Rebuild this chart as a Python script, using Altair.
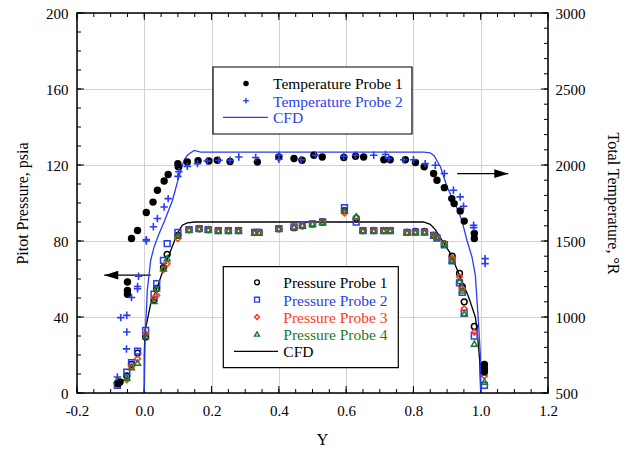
import altair as alt
import pandas as pd

FONT = "Liberation Serif"
BLUE = "#2a3df0"
RED = "#ff3a1c"
GREEN = "#1b7a2b"
GRID = "#d2d2d2"
W, H = 471, 380

# ---------------- data ----------------
# Pressure probes (psia) at common Y positions
X_P = [-0.08, -0.052, -0.038, -0.02, 0.004, 0.029, 0.037, 0.057, 0.068, 0.10,
       0.133, 0.163, 0.19, 0.22, 0.25, 0.28, 0.328, 0.341, 0.40, 0.445,
       0.47, 0.50, 0.53, 0.595, 0.63, 0.65, 0.682, 0.712, 0.731, 0.781,
       0.806, 0.833, 0.86, 0.87, 0.892, 0.915, 0.937, 0.945, 0.951, 0.981, 1.011]
P1 = [5, 9, 15, 21, 29.5, 49, 55, 66, 73, 83, 86, 86.5, 86, 85.5, 85.5, 85.5, 84.5, 84.5, 86.5, 87,
      88, 89, 90, 96, 92, 85.5, 85.5, 85.5, 85.5, 84.5, 85, 85, 83, 82, 78.5, 72, 63, 56, 48, 35, 12]
P2 = [4, 11, 16, 22, 33, 52, 57.6, 69.8, 78.6, 84.5, 86, 86.5, 86, 85.5, 85.5, 85.5, 84.5, 84.5, 86.5, 87.4,
      88.3, 89, 90, 97.5, 90, 85.5, 85.5, 85.5, 85.5, 84.5, 84.7, 84.7, 83, 81.5, 78, 69.5, 58, 53, 42, 30, 4]
P3 = [5, 7, 14, 18, 31, 50, 51.4, 65, 68, 81.3, 86, 86.5, 86, 85.5, 85.5, 85.5, 84.5, 84.5, 86.5, 87.4,
      88.3, 89.1, 90, 94.7, 92.5, 85.5, 85.5, 85.5, 85.5, 84.5, 84.7, 84.7, 83, 82, 78.6, 71, 61, 55, 44.4, 32, 9]
P4 = [7, 8, 13.6, 16, 30, 48.5, 55, 65.5, 71, 83, 86, 86.5, 86, 85.5, 85.5, 85.5, 84.5, 84.5, 86.5, 87.4,
      88.3, 89.1, 90, 96, 93, 85.5, 85.5, 85.5, 85.5, 84.5, 84.7, 84.7, 83, 82, 78.6, 70, 59, 54, 41.8, 26, 6]

# Pressure CFD (psia)
X_CP = [0.0, 0.0, 0.002, 0.007, 0.019, 0.039, 0.059, 0.079, 0.098, 0.113, 0.128, 0.15,
        0.83, 0.85, 0.865, 0.879, 0.91, 0.939, 0.964, 0.984, 0.989, 0.997, 1.0]
P_CP = [0, 20, 33, 36.5, 47, 55.8, 66.3, 75.1, 83.9, 88.3, 89.5, 90,
        90, 88.8, 86, 82.1, 73.4, 61, 50.5, 40, 33, 17, 0]

# Temperature probe 1 (deg R)
X_T1 = [-0.078, -0.072, -0.05, -0.05, -0.05, -0.038, -0.02, 0.006, 0.026, 0.039,
        0.059, 0.071, 0.10, 0.101, 0.128, 0.16, 0.192, 0.217, 0.255, 0.336, 0.40,
        0.445, 0.469, 0.504, 0.529, 0.593, 0.628, 0.652, 0.712, 0.731, 0.776,
        0.806, 0.832, 0.86, 0.87, 0.892, 0.914, 0.921, 0.939, 0.951, 0.981,
        0.981, 1.011, 1.011, 1.011]
T1 = [561, 572, 1150, 1175, 1230, 1516, 1569, 1688, 1756, 1834,
      1895, 1938, 2009, 1988, 2020, 2028, 2026, 2031, 2023, 2020, 2053,
      2043, 2031, 2064, 2053, 2049, 2058, 2053, 2035, 2035, 2035,
      2016, 1988, 1944, 1900, 1851, 1779, 1746, 1698, 1631, 1549,
      1516, 688, 663, 638]

# Temperature probe 2 (deg R)
X_T2 = [-0.08, -0.07, -0.053, -0.052, -0.052, -0.038, -0.02, -0.02, -0.017, 0.006,
        0.006, 0.027, 0.039, 0.059, 0.071, 0.10, 0.103, 0.128, 0.158, 0.187,
        0.222, 0.255, 0.281, 0.331, 0.40, 0.40, 0.466, 0.509, 0.593, 0.628,
        0.682, 0.717, 0.727, 0.771, 0.80, 0.835, 0.865, 0.892, 0.919, 0.939,
        0.949, 0.979, 0.979, 1.013, 1.013]
T2 = [605, 996, 790, 901, 1011, 1128, 1186, 1201, 1268, 1500,
      1509, 1594, 1648, 1724, 1779, 1925, 1956, 1991, 2009, 2026,
      2031, 2031, 2053, 2049, 2064, 2038, 2035, 2064, 2058, 2064,
      2064, 2069, 2043, 2035, 2035, 2009, 1998, 1944, 1834, 1790,
      1729, 1604, 1588, 1384, 1351]

# Temperature CFD (deg R)
X_CT = [0.0, 0.001, 0.002, 0.004, 0.009, 0.019, 0.029, 0.042, 0.06, 0.084, 0.10,
        0.118, 0.128, 0.148, 0.168, 0.83, 0.85, 0.862, 0.872, 0.88, 0.90, 0.924,
        0.944, 0.959, 0.974, 0.984, 0.993, 0.999, 1.0]
T_CT = [510, 650, 825, 934, 1175, 1373, 1460, 1538, 1631, 1768, 1900,
        2031, 2064, 2096, 2085, 2085, 2080, 2060, 2020, 1990, 1855, 1746,
        1636, 1505, 1395, 1275, 975, 750, 510]

# Arrows (pointing to the axis each group belongs to)
ARROW_L = {"x0": [-0.119], "x1": [0.019], "p": [62]}
ARROW_R = {"x0": [0.93], "x1": [1.082], "t": [1943]}

# Axis ticks
X_MAJOR = [-0.2, 0.0, 0.2, 0.4, 0.6, 0.8, 1.0, 1.2]
X_MINOR = [round(-0.2 + 0.05 * i, 2) for i in range(29)]
P_MAJOR = [0, 40, 80, 120, 160, 200]
P_MINOR = list(range(0, 201, 10))
T_MAJOR = [500, 1000, 1500, 2000, 2500, 3000]
T_MINOR = list(range(500, 3001, 100))

LEG1 = ["Temperature Probe 1", "Temperature Probe 2", "CFD"]
LEG2 = ["Pressure Probe 1", "Pressure Probe 2", "Pressure Probe 3", "Pressure Probe 4", "CFD"]

PLUS = "M-1,0L1,0M0,-1L0,1"
HEAD_L = "M0,0L2,-0.62L2,0.62Z"
HEAD_R = "M0,0L-2,-0.62L-2,0.62Z"

# ---------------- scales & axes ----------------
XS = alt.Scale(domain=[-0.2, 1.2], nice=False, zero=False)
PS = alt.Scale(domain=[0, 200], nice=False, zero=False)
TS = alt.Scale(domain=[500, 3000], nice=False, zero=False)

x_axis = alt.Axis(values=X_MAJOR, grid=True, gridColor=GRID, gridWidth=1, ticks=False, domain=False,
                  labelExpr="(datum.value < -0.001 ? '-' : '') + format(abs(datum.value), '.1f')",
                  labelFont=FONT, labelFontSize=15, labelColor="black", labelPadding=10,
                  labelFlush=False, labelOverlap=False,
                  title="Y", titleFont=FONT, titleFontSize=16, titleFontWeight="normal",
                  titleColor="black", titleX=245, titleY=38, titleBaseline="top", titleAlign="center")
p_axis = alt.Axis(values=P_MAJOR, grid=True, gridColor=GRID, gridWidth=1, ticks=False, domain=False,
                  format="d", labelFont=FONT, labelFontSize=15, labelColor="black", labelPadding=9,
                  labelFlush=False, labelOverlap=False,
                  title="Pitot Pressure, psia", titleFont=FONT, titleFontSize=16, titleFontWeight="normal",
                  titleColor="black", titleAngle=270, titleX=-55, titleY=190,
                  titleAlign="center", titleBaseline="middle")
t_axis = alt.Axis(orient="right", values=T_MAJOR, grid=False, ticks=False, domain=False,
                  format="d", labelFont=FONT, labelFontSize=15, labelColor="black", labelPadding=7,
                  labelFlush=False, labelOverlap=False,
                  title="Total Temperature, °R", titleFont=FONT, titleFontSize=16, titleFontWeight="normal",
                  titleColor="black", titleAngle=90, titleX=64, titleY=190,
                  titleAlign="center", titleBaseline="middle")

one = pd.DataFrame({"k": [0]})


def xq(field="x"):
    return alt.X(f"{field}:Q", scale=XS, axis=x_axis)


def yp(field):
    return alt.Y(f"{field}:Q", scale=PS, axis=p_axis)


def yt(field):
    return alt.Y(f"{field}:Q", scale=TS, axis=t_axis)


# ---------------- pressure group ----------------
dfp = pd.DataFrame({"x": X_P, "p1": P1, "p2": P2, "p3": P3, "p4": P4})
dfcp = pd.DataFrame({"x": X_CP, "p": P_CP, "i": list(range(len(X_CP)))})

cfd_p = alt.Chart(dfcp).mark_line(color="black", strokeWidth=1.3).encode(
    x=xq(), y=yp("p"), order="i:Q")


def probe(col, shape, color):
    return alt.Chart(dfp).mark_point(shape=shape, filled=False, color=color, size=34,
                                     strokeWidth=1.5, opacity=1).encode(x=xq(), y=yp(col))


pp1 = probe("p1", "circle", "black")
pp2 = probe("p2", "square", BLUE)
pp3 = probe("p3", "diamond", RED)
pp4 = probe("p4", "triangle-up", GREEN)

dal = pd.DataFrame(ARROW_L)
arrow_l_line = alt.Chart(dal).mark_rule(color="black", strokeWidth=1.3).encode(
    x=xq("x0"), x2="x1:Q", y=yp("p"))
arrow_l_head = alt.Chart(dal).mark_point(shape=HEAD_L, filled=True, color="black", size=196,
                                         strokeWidth=0, opacity=1).encode(x=xq("x0"), y=yp("p"))

pmaj = pd.DataFrame({"v": P_MAJOR})
pmin = pd.DataFrame({"v": P_MINOR})
lt_major = alt.Chart(pmaj).mark_rule(color="black", strokeWidth=1).encode(
    y=yp("v"), x=alt.value(0), x2=alt.value(7))
lt_minor = alt.Chart(pmin).mark_rule(color="black", strokeWidth=1).encode(
    y=yp("v"), x=alt.value(0), x2=alt.value(4))

xmaj = pd.DataFrame({"x": X_MAJOR})
xmin = pd.DataFrame({"x": X_MINOR})
xt = [
    alt.Chart(xmaj).mark_rule(color="black", strokeWidth=1).encode(x=xq(), y=alt.value(H), y2=alt.value(H - 7)),
    alt.Chart(xmaj).mark_rule(color="black", strokeWidth=1).encode(x=xq(), y=alt.value(0), y2=alt.value(7)),
    alt.Chart(xmin).mark_rule(color="black", strokeWidth=1).encode(x=xq(), y=alt.value(H), y2=alt.value(H - 4)),
    alt.Chart(xmin).mark_rule(color="black", strokeWidth=1).encode(x=xq(), y=alt.value(0), y2=alt.value(4)),
]

group_p = alt.layer(cfd_p, lt_major, lt_minor, *xt, arrow_l_line, arrow_l_head, pp1, pp2, pp3, pp4)

# ---------------- temperature group ----------------
dft1 = pd.DataFrame({"x": X_T1, "t": T1})
dft2 = pd.DataFrame({"x": X_T2, "t": T2})
dfct = pd.DataFrame({"x": X_CT, "t": T_CT, "i": list(range(len(X_CT)))})

cfd_t = alt.Chart(dfct).mark_line(color=BLUE, strokeWidth=1.3).encode(
    x=xq(), y=yt("t"), order="i:Q")
tp1 = alt.Chart(dft1).mark_point(shape="circle", filled=True, color="black", size=55, opacity=1).encode(
    x=xq(), y=yt("t"))
tp2 = alt.Chart(dft2).mark_point(shape=PLUS, filled=False, color=BLUE, size=55, strokeWidth=1.6,
                                 opacity=1).encode(x=xq(), y=yt("t"))

dar = pd.DataFrame(ARROW_R)
arrow_r_line = alt.Chart(dar).mark_rule(color="black", strokeWidth=1.3).encode(
    x=xq("x0"), x2="x1:Q", y=yt("t"))
arrow_r_head = alt.Chart(dar).mark_point(shape=HEAD_R, filled=True, color="black", size=196,
                                         strokeWidth=0, opacity=1).encode(x=xq("x1"), y=yt("t"))

tmaj = pd.DataFrame({"v": T_MAJOR})
tmin = pd.DataFrame({"v": T_MINOR})
rt_major = alt.Chart(tmaj).mark_rule(color="black", strokeWidth=1).encode(
    y=yt("v"), x=alt.value(W - 7), x2=alt.value(W))
rt_minor = alt.Chart(tmin).mark_rule(color="black", strokeWidth=1).encode(
    y=yt("v"), x=alt.value(W - 4), x2=alt.value(W))

group_t = alt.layer(cfd_t, rt_major, rt_minor, arrow_r_line, arrow_r_head, tp1, tp2)


# ---------------- legends & frame ----------------
def box(x0, x1, y0, y1):
    return alt.Chart(one).mark_rect(fill="white", stroke="black", strokeWidth=1.2).encode(
        x=alt.value(x0), x2=alt.value(x1), y=alt.value(y0), y2=alt.value(y1))


def label(txt, x, y, color):
    return alt.Chart(one).mark_text(text=txt, align="left", baseline="alphabetic", font=FONT,
                                    fontSize=15.5, color=color).encode(x=alt.value(x), y=alt.value(y))


def sym(shape, x, y, color, filled, size, sw=1.4):
    return alt.Chart(one).mark_point(shape=shape, filled=filled, color=color, size=size,
                                     strokeWidth=sw, opacity=1).encode(x=alt.value(x), y=alt.value(y))


def hline(x0, x1, y, color):
    return alt.Chart(one).mark_rule(color=color, strokeWidth=1.3).encode(
        x=alt.value(x0), x2=alt.value(x1), y=alt.value(y))


leg1_rows = [70.5, 87.7, 104.3]
leg1 = [box(136, 335, 54, 121),
        sym("circle", 169, leg1_rows[0], "black", True, 30),
        sym(PLUS, 169, leg1_rows[1], BLUE, False, 30, 1.4),
        hline(146, 191, leg1_rows[2], BLUE)]
leg1 += [label(t, 196, r + 5.8, c) for t, r, c in zip(LEG1, leg1_rows, ["black", BLUE, BLUE])]

leg2_rows = [269.3, 286.7, 304.0, 321.0, 338.3]
leg2 = [box(146.3, 321.3, 253.7, 354.7),
        sym("circle", 180, leg2_rows[0], "black", False, 24),
        sym("square", 180, leg2_rows[1], BLUE, False, 24),
        sym("diamond", 180, leg2_rows[2], RED, False, 24),
        sym("triangle-up", 180, leg2_rows[3], GREEN, False, 24),
        hline(157, 201, leg2_rows[4], "black")]
leg2 += [label(t, 206.3, r + 5.8, c)
         for t, r, c in zip(LEG2, leg2_rows, ["black", BLUE, RED, GREEN, "black"])]

frame = alt.Chart(one).mark_rect(fillOpacity=0, stroke="black", strokeWidth=1.5).encode(
    x=alt.value(0), x2=alt.value(W), y=alt.value(0), y2=alt.value(H))

group_l = alt.layer(*leg1, *leg2, frame)

chart = alt.layer(group_p, group_t, group_l).resolve_scale(y="independent").properties(
    width=W, height=H,
    autosize=alt.AutoSizeParams(type="none"),
    padding={"left": 77, "top": 13, "right": 79, "bottom": 57},
    background="white",
).configure_view(stroke=None)

chart.save("out.html", embed_options={"renderer": "svg", "actions": False})
